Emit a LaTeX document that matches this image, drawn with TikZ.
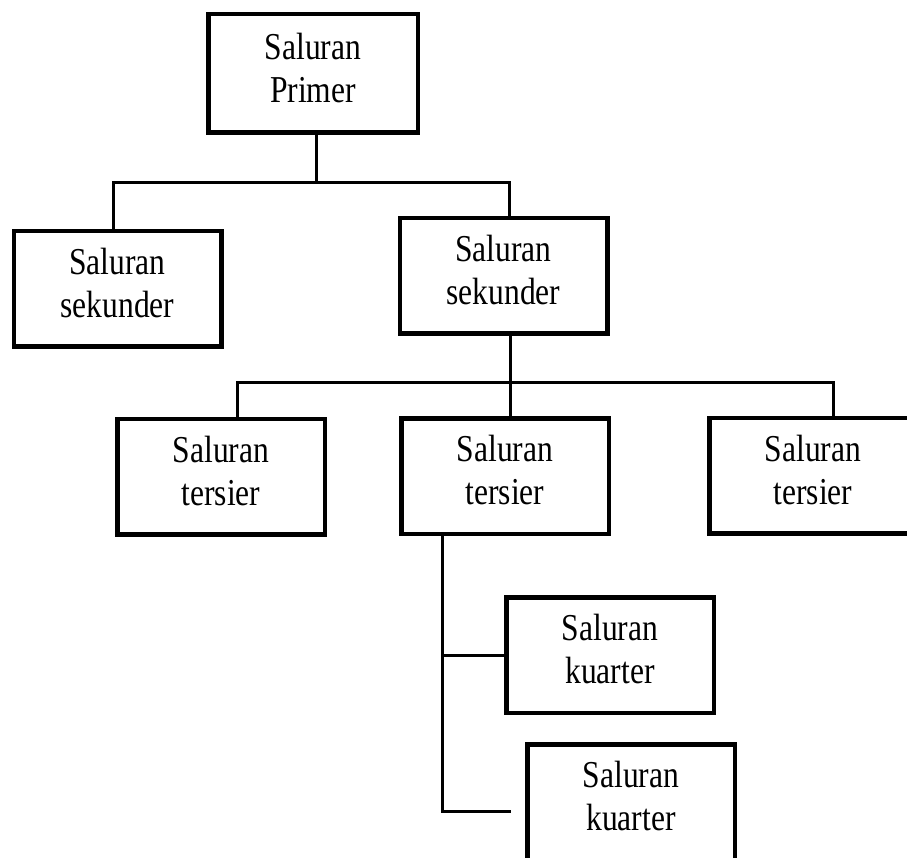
\documentclass[tikz,border=0pt]{standalone}
\usepackage{fontspec}
\setmainfont[FakeStretch=0.83]{Liberation Serif}
\usepackage{tikz}

\begin{document}
\begin{tikzpicture}[x=1pt,y=-1pt,box/.style={draw,line width=4.5pt,minimum width=207.5pt,minimum height=115.5pt,align=center,text depth=12pt,font=\fontsize{38}{43}\selectfont},lnk/.style={line width=3pt}]
\useasboundingbox (0,0) rectangle (907,858);
\node[box,minimum width=209.5pt,minimum height=118.5pt] (primer) at (313,73.5) {Saluran\\Primer};
\node[box] (sekL) at (117.5,289) {Saluran\\sekunder};
\node[box] (sekR) at (503.5,276) {Saluran\\sekunder};
\foreach \n/\x/\y in %
{terL/221/476.5,terM/505/476,terR/813/475.5} {
   \node[box] (\n) at (\x,\y) {Saluran\\tersier};
}
\node[box] (kuar1) at (610,655) {Saluran\\kuarter};
\node[box] (kuar2) at (631,802) {Saluran\\kuarter};
% bus lines
\coordinate (bus1) at (316,183);
\coordinate (bus2) at (510,382);
\draw[lnk] ([xshift=3pt]primer.south) -- (bus1);
\draw[lnk] ([xshift=-4.5pt]sekL.north) |- (bus1) -| ([xshift=5.5pt]sekR.north);
\draw[lnk] ([xshift=6.5pt]sekR.south) -- (bus2);
\draw[lnk] ([xshift=16pt]terL.north) |- (bus2) -| ([xshift=20pt]terR.north);
\draw[lnk] ([xshift=5pt]terM.north) -- (bus2);
% kuarter branch
\coordinate (trunk) at (442,811);
\coordinate (k2) at (511,811);
\draw[lnk] (terM.south -| trunk) -- (trunk) -- (k2);
\draw[lnk] (trunk |- kuar1.west) -- (kuar1.west);
\end{tikzpicture}
\end{document}
